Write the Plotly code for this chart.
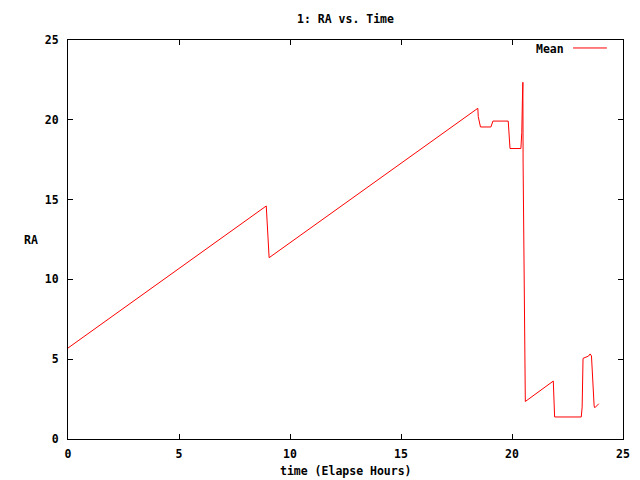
import plotly.graph_objects as go

# Data
time_hours = [0.0, 8.93, 9.06, 18.46, 18.48, 18.58, 19.05, 19.14, 19.83, 19.91,
              20.40, 20.41, 20.44, 20.47, 20.49, 20.50, 20.55, 20.60, 21.86, 21.92,
              23.12, 23.16, 23.20, 23.45, 23.52, 23.58, 23.70, 23.73, 23.91]
ra_mean = [5.7, 14.6, 11.36, 20.72, 20.2, 19.55, 19.55, 19.92, 19.92, 18.2,
           18.2, 19.2, 19.2, 21.3, 22.35, 17.3, 7.3, 2.35, 3.63, 1.38,
           1.38, 2.0, 5.05, 5.2, 5.33, 5.2, 2.07, 1.96, 2.21]

x_ticks = [0, 5, 10, 15, 20, 25]
y_ticks = [0, 5, 10, 15, 20, 25]

FONT = "DejaVu Sans Mono"
FS = 11.5

fig = go.Figure()
fig.add_trace(go.Scatter(x=time_hours, y=ra_mean, mode="lines", name="Mean",
                         line=dict(color="#ff0000", width=1), showlegend=False))

axis_common = dict(showgrid=False, zeroline=False, showline=True, linecolor="black",
                   linewidth=1, mirror="ticks", ticks="inside", ticklen=5,
                   tickcolor="black", tickfont=dict(family=FONT, size=FS, color="black"))

fig.update_xaxes(range=[0, 25], tickvals=x_ticks,
                 ticktext=[f"<b>{v}</b>" for v in x_ticks], ticklabelstandoff=4,
                 **axis_common)
fig.update_yaxes(range=[0, 25], tickvals=y_ticks,
                 ticktext=[f"<b>{v}</b>" for v in y_ticks], ticklabelstandoff=6,
                 **axis_common)

fig.update_layout(
    width=634, height=473,
    margin=dict(l=60, r=15, t=32, b=42),
    paper_bgcolor="white", plot_bgcolor="white",
    font=dict(family=FONT, size=FS, color="black"),
    annotations=[
        dict(text="<b>1: RA vs. Time</b>", xref="paper", yref="paper", x=0.5, y=1,
             yanchor="middle", yshift=21, showarrow=False, font=dict(family=FONT, size=FS)),
        dict(text="<b>time (Elapse Hours)</b>", xref="paper", yref="paper", x=0.5, y=0,
             yanchor="middle", yshift=-32, showarrow=False, font=dict(family=FONT, size=FS)),
        dict(text="<b>RA</b>", xref="paper", yref="paper", x=0, y=0.5, xshift=-37,
             xanchor="center", yanchor="middle", showarrow=False,
             font=dict(family=FONT, size=FS)),
        dict(text="<b>Mean</b>", xref="paper", yref="paper", x=0.898, y=0.977,
             xanchor="right", yanchor="middle", showarrow=False,
             font=dict(family=FONT, size=FS)),
    ],
    shapes=[
        dict(type="line", xref="paper", yref="paper", x0=0.910, x1=0.971,
             y0=0.980, y1=0.980, line=dict(color="#ff0000", width=1)),
    ],
)

fig.write_html("out.html")
